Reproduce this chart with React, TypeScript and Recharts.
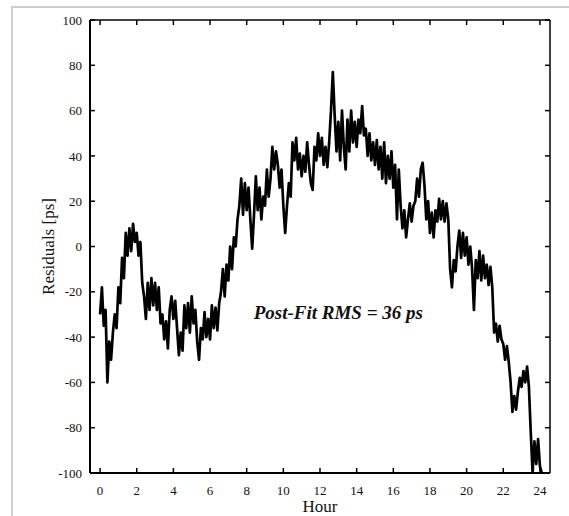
import { LineChart, Line, XAxis, YAxis, ReferenceDot } from 'recharts';

// residual samples, one every 0.1 h starting at hour 0
const START_HOUR = 0;
const STEP = 0.1;
const residuals = [
  -30, -18, -35, -28, -60, -42, -50, -38, -30, -36,
  -18, -25, -5, -14, 6, -4, 8, -2, 10, 2,
  6, -4, 2, -16, -22, -32, -16, -28, -14, -26,
  -16, -28, -18, -34, -30, -41, -33, -45, -28, -22,
  -32, -24, -36, -48, -38, -46, -26, -36, -25, -38,
  -22, -34, -28, -42, -50, -36, -41, -29, -40, -32,
  -41, -26, -36, -27, -37, -25, -20, -10, -22, -8,
  -15, 0, -10, 4, 0, 12, 18, 30, 14, 28,
  16, 26, 12, -1, 14, 31, 16, 26, 12, 22,
  18, 34, 22, 30, 44, 34, 42, 36, 26, 34,
  18, 6, 18, 28, 22, 46, 38, 48, 34, 41,
  31, 40, 33, 46, 36, 28, 25, 44, 38, 50,
  40, 48, 36, 44, 35, 46, 60, 77, 58, 42,
  55, 38, 60, 44, 34, 56, 42, 60, 46, 55,
  44, 56, 50, 62, 49, 52, 40, 50, 38, 46,
  36, 47, 34, 44, 30, 46, 28, 40, 30, 42,
  26, 36, 12, 34, 18, 8, 16, 4, 12, 19,
  11, 18, 20, 30, 22, 34, 37, 27, 12, 20,
  6, 15, 4, 16, 11, 21, 12, 20, 11, 19,
  12, -10, -18, -6, -11, 0, 7, -5, 6, -4,
  4, -8, 0, -10, -28, -6, -14, -2, -15, -4,
  -14, -8, -17, -9, -18, -38, -34, -42, -35, -41,
  -43, -50, -44, -51, -60, -73, -66, -72, -64, -58,
  -62, -55, -60, -53, -62, -82, -100, -86, -96, -85,
  -97, -100,
];

const hourTicks = [0, 2, 4, 6, 8, 10, 12, 14, 16, 18, 20, 22, 24];
const residualTicks = [-100, -80, -60, -40, -20, 0, 20, 40, 60, 80, 100];

const data = residuals.map((r, i) => ({
  hour: +(START_HOUR + i * STEP).toFixed(2),
  residual: r,
}));

const serif = '"Liberation Serif", "Times New Roman", serif';
const tickStyle = { fill: '#111', fontSize: 13, fontFamily: serif };
const NoLabel = () => <g />;

export default function App() {
  return (
    <div style={{ position: 'fixed', left: 0, top: 0, width: 569, height: 516, background: '#fff' }}>
      <div
        style={{
          position: 'absolute',
          left: 11,
          top: 6,
          width: 600,
          height: 600,
          borderLeft: '2px solid #cfcfcf',
          borderTop: '2px solid #cfcfcf',
        }}
      />
      <div style={{ position: 'absolute', left: 0, top: 0 }}>
        <LineChart width={569} height={516} data={data} margin={{ top: 19, right: 18, left: 30, bottom: 0 }}>
          <XAxis
            dataKey="hour"
            type="number"
            domain={[-0.55, 24.55]}
            ticks={hourTicks}
            allowDataOverflow
            height={43}
            tickSize={-5}
            tickMargin={18}
            tick={tickStyle}
            axisLine={{ stroke: '#000', strokeWidth: 2 }}
            tickLine={{ stroke: '#000', strokeWidth: 1.5 }}
            label={{
              value: 'Hour',
              position: 'insideBottom',
              offset: 4,
              style: { fill: '#111', fontSize: 17, fontFamily: serif },
            }}
          />
          <XAxis
            xAxisId="top"
            orientation="top"
            dataKey="hour"
            type="number"
            domain={[-0.55, 24.55]}
            ticks={hourTicks}
            allowDataOverflow
            height={1}
            tickSize={-5}
            tick={NoLabel}
            axisLine={{ stroke: '#000', strokeWidth: 1.5 }}
            tickLine={{ stroke: '#000', strokeWidth: 1.5 }}
          />
          <YAxis
            dataKey="residual"
            type="number"
            domain={[-100, 100]}
            ticks={residualTicks}
            allowDataOverflow
            width={60}
            tickSize={-5}
            tickMargin={13}
            tick={tickStyle}
            axisLine={{ stroke: '#000', strokeWidth: 2 }}
            tickLine={{ stroke: '#000', strokeWidth: 1.5 }}
            label={{
              value: 'Residuals [ps]',
              angle: -90,
              position: 'insideLeft',
              offset: 18,
              style: { fill: '#111', fontSize: 17, fontFamily: serif, textAnchor: 'middle' },
            }}
          />
          <YAxis
            yAxisId="right"
            orientation="right"
            dataKey="residual"
            type="number"
            domain={[-100, 100]}
            ticks={residualTicks}
            allowDataOverflow
            width={1}
            tickSize={-5}
            tick={NoLabel}
            axisLine={{ stroke: '#000', strokeWidth: 1.5 }}
            tickLine={{ stroke: '#000', strokeWidth: 1.5 }}
          />
          <Line
            type="linear"
            dataKey="residual"
            stroke="#000"
            strokeWidth={2.7}
            strokeLinejoin="round"
            dot={false}
            isAnimationActive={false}
          />
          <Line
            xAxisId="top"
            yAxisId="right"
            type="linear"
            dataKey="residual"
            stroke="#000"
            strokeWidth={0}
            strokeOpacity={0}
            dot={false}
            activeDot={false}
            legendType="none"
            isAnimationActive={false}
          />
          <ReferenceDot
            x={13}
            y={-29}
            r={0}
            stroke="none"
            fill="none"
            label={{
              value: 'Post-Fit RMS = 36 ps',
              position: 'center',
              style: { fill: '#111', fontSize: 19, fontWeight: 'bold', fontStyle: 'italic', fontFamily: serif },
            }}
          />
        </LineChart>
      </div>
    </div>
  );
}
